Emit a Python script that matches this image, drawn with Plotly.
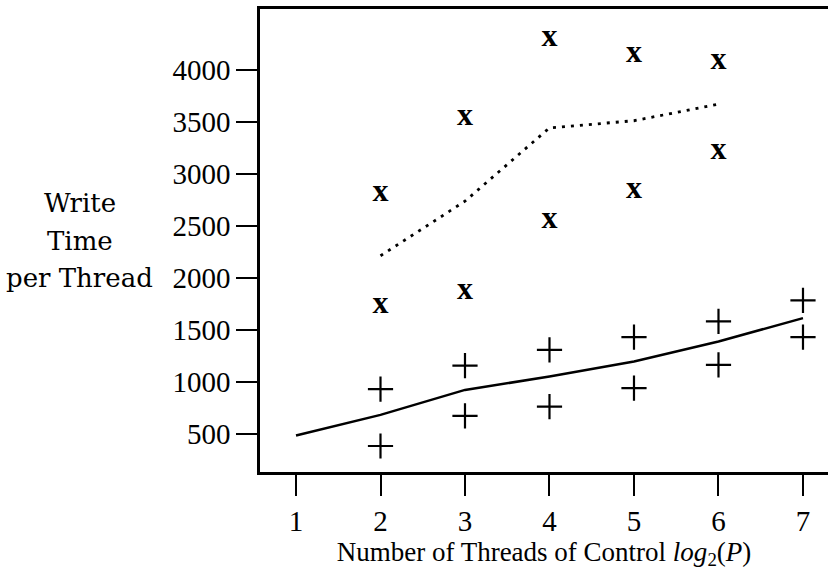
import plotly.graph_objects as go

# Data
x_mean = [1, 2, 3, 4, 5, 6, 7]
y_write_solid = [487, 686, 926, 1054, 1199, 1391, 1616]

x_dotted = [2, 3, 4, 5, 6]
y_write_dotted = [2215, 2740, 3445, 3513, 3673]

x_plus = [2, 2, 3, 3, 4, 4, 5, 5, 6, 6, 7, 7]
y_plus = [933, 387, 1160, 676, 1311, 766, 1434, 943, 1584, 1167, 1786, 1434]

x_cross = [2, 2, 3, 3, 4, 4, 5, 5, 6, 6]
y_cross = [2819, 1744, 3551, 1872, 4305, 2556, 4154, 2845, 4087, 3223]

x_ticks = [1, 2, 3, 4, 5, 6, 7]
y_ticks = [500, 1000, 1500, 2000, 2500, 3000, 3500, 4000]

y_title_lines = ["Write", "Time", "per Thread"]

FONT = "Liberation Serif"
FONT2 = "DejaVu Serif"

fig = go.Figure()
fig.add_trace(go.Scatter(x=x_mean, y=y_write_solid, mode="lines",
                         line=dict(color="black", width=2.5)))
fig.add_trace(go.Scatter(x=x_dotted, y=y_write_dotted, mode="lines",
                         line=dict(color="black", width=2.8, dash="3px,6px")))
fig.add_trace(go.Scatter(x=x_plus, y=y_plus, mode="markers",
                         marker=dict(symbol="cross-thin", size=18,
                                     line=dict(color="black", width=2.2))))
fig.add_trace(go.Scatter(x=x_cross, y=y_cross, mode="text", text=["x"] * len(x_cross),
                         textposition="middle center",
                         textfont=dict(family=FONT, size=32, color="black", weight="bold")))

fig.update_layout(
    width=828, height=571,
    margin=dict(l=260, r=0, t=9, b=99),
    plot_bgcolor="white", paper_bgcolor="white",
    showlegend=False,
    font=dict(family=FONT, size=29, color="black"),
    xaxis=dict(range=[0.574, 7.296], tickvals=x_ticks, ticks="outside", ticklen=21,
               tickwidth=2, tickcolor="black", showline=True, linewidth=2.5,
               linecolor="black", mirror=True, showgrid=False, zeroline=False,
               tickfont=dict(family=FONT, size=29),
               title=dict(text="Number of Threads of Control <i>log</i><sub>2</sub>(<i>P</i>)",
                          font=dict(family=FONT, size=27), standoff=4)),
    yaxis=dict(range=[137, 4587], tickvals=y_ticks, ticks="outside", ticklen=21,
               tickwidth=2, tickcolor="black", showline=True, linewidth=2.5,
               linecolor="black", showgrid=False, zeroline=False,
               tickfont=dict(family=FONT, size=29)),
)
for txt, py in zip(y_title_lines, [0.581, 0.499, 0.419]):
    fig.add_annotation(text=txt, xref="paper", yref="paper",
                       x=-0.317, y=py, xanchor="center", yanchor="middle", showarrow=False,
                       font=dict(family=FONT2, size=26))

fig.write_html("out.html")
